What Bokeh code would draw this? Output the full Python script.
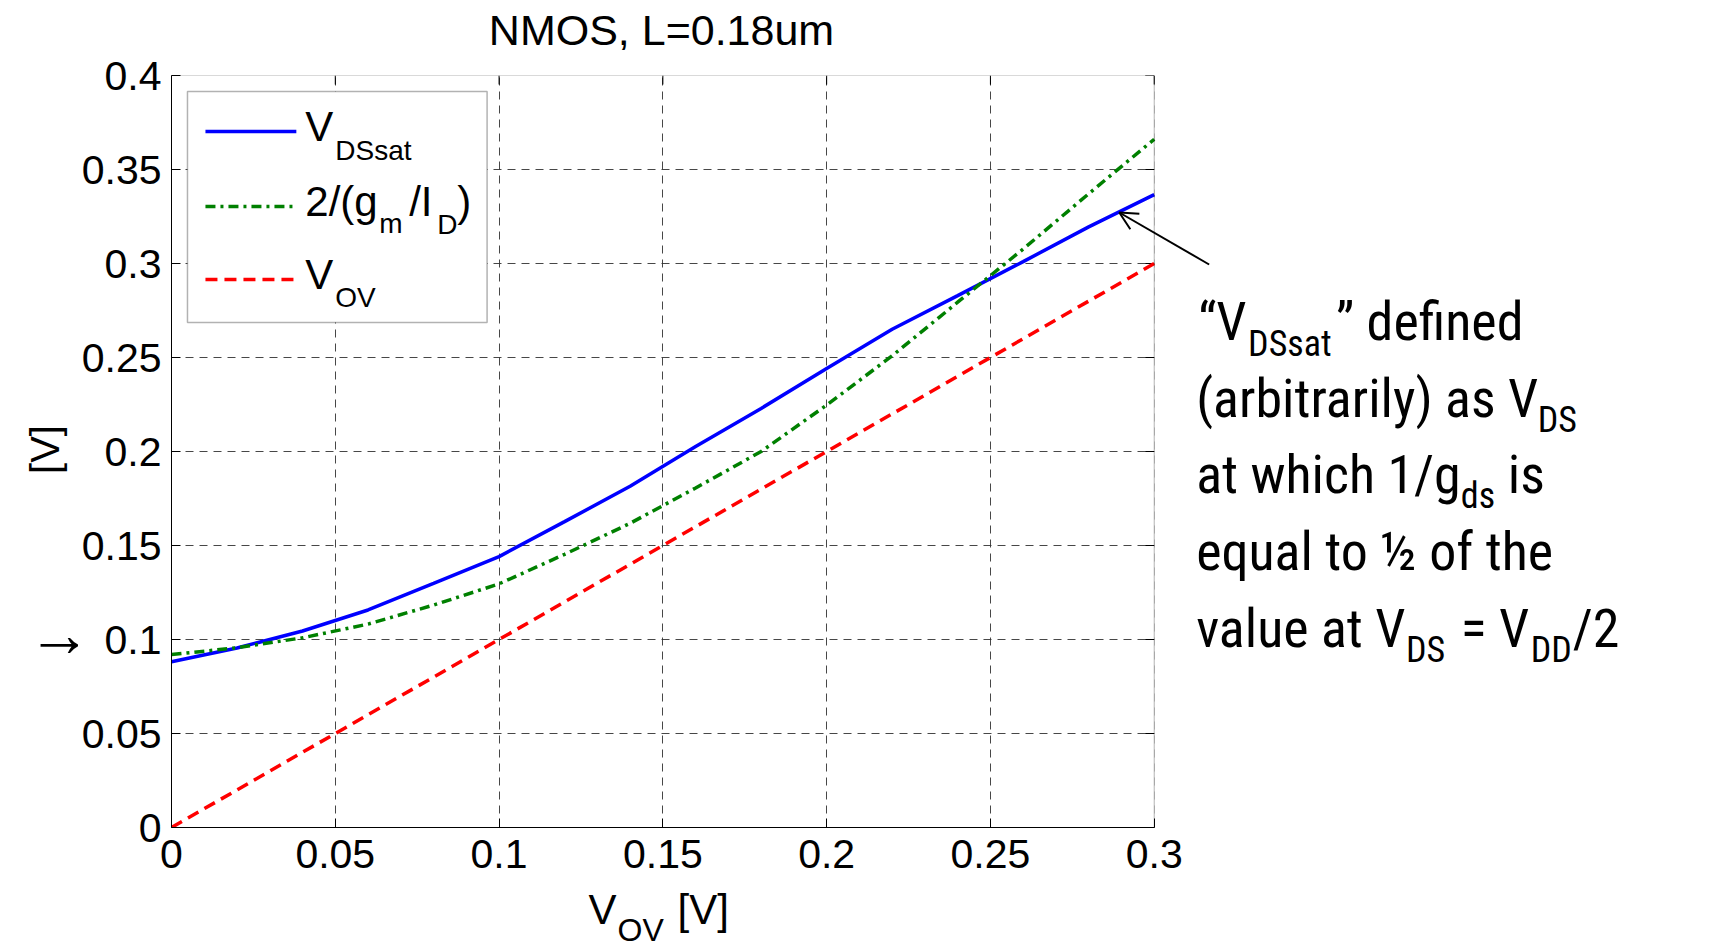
import math
from bokeh.plotting import figure
from bokeh.models import Label, BoxAnnotation, Arrow, OpenHead, FixedTicker, Range1d
from bokeh.layouts import column, row
from bokeh.embed import file_html
from bokeh.resources import INLINE

# ---------------- data ----------------
v_ov = [0.00, 0.02, 0.04, 0.06, 0.08, 0.10, 0.12, 0.14, 0.16, 0.18,
        0.20, 0.22, 0.24, 0.26, 0.28, 0.30]
v_dssat = [0.0882, 0.0955, 0.1045, 0.1157, 0.1298, 0.1441, 0.1627, 0.1815,
           0.2026, 0.2229, 0.2442, 0.2650, 0.2829, 0.3010, 0.3195, 0.3366]
two_over_gmid = [0.0920, 0.0956, 0.1009, 0.1082, 0.1183, 0.1296, 0.1453, 0.1618,
                 0.1806, 0.2000, 0.2247, 0.2509, 0.2794, 0.3077, 0.3371, 0.3661]
v_ov_line = [0.00, 0.02, 0.04, 0.06, 0.08, 0.10, 0.12, 0.14, 0.16, 0.18,
             0.20, 0.22, 0.24, 0.26, 0.28, 0.30]

x_ticks = [0, 0.05, 0.1, 0.15, 0.2, 0.25, 0.3]
x_tick_labels = ["0", "0.05", "0.1", "0.15", "0.2", "0.25", "0.3"]
y_ticks = [0, 0.05, 0.1, 0.15, 0.2, 0.25, 0.3, 0.35, 0.4]
y_tick_labels = ["0", "0.05", "0.1", "0.15", "0.2", "0.25", "0.3", "0.35", "0.4"]

title_text = "NMOS, L=0.18um"

# ---------------- layout (canvas pixels) ----------------
W, H = 1710, 944
FL, FR, FT, FB = 169, 1153, 75, 827          # axes box
LEFT_W = 78                                   # left strip (y label, arrow mark)
TOP_B = 25                                    # main figure top border
TOP_H = FT - TOP_B                            # title strip height
BOT_B = 62                                    # main figure bottom border
MID_B = FB + BOT_B
X0, X1, Y0, Y1 = 0.0, 0.3, 0.0, 0.4
MID_K = 0.345                                 # em-middle above the baseline

def px2x(px):
    return X0 + (px - FL) / (FR - FL) * (X1 - X0)

def py2y(py):
    return Y0 + (FB - py) / (FB - FT) * (Y1 - Y0)

def fpx(size):
    return float(size.replace("px", ""))

SANS = "'Liberation Sans'"
NARROW = "'Roboto Condensed', 'Liberation Sans Narrow', 'DejaVu Sans Condensed', sans-serif"

# ---------------- main figure (frame extends to the right edge) ----------------
p = figure(width=W - LEFT_W, height=MID_B - TOP_H, output_backend="svg",
           toolbar_location=None, title=None,
           x_range=Range1d(X0, px2x(W)), y_range=Range1d(Y0, Y1),
           min_border_left=FL - LEFT_W, min_border_right=0,
           min_border_top=TOP_B, min_border_bottom=BOT_B)
p.background_fill_color = "white"
p.border_fill_color = "white"
p.outline_line_color = None

for ax, ticks, labels in ((p.xaxis[0], x_ticks, x_tick_labels),
                          (p.yaxis[0], y_ticks, y_tick_labels)):
    ax.ticker = FixedTicker(ticks=ticks)
    ax.major_label_overrides = dict(zip(ticks, labels))
    ax.major_label_text_font = SANS
    ax.major_label_text_font_size = "41px"
    ax.major_label_text_color = "black"
    ax.major_tick_in = 9
    ax.major_tick_out = 0
    ax.minor_tick_line_color = None
    ax.axis_line_color = "black"
    ax.major_tick_line_color = "black"
p.xaxis.bounds = (X0, X1)
p.xaxis.major_label_standoff = 12
p.yaxis.major_label_standoff = 10

p.xgrid.ticker = FixedTicker(ticks=x_ticks)
p.ygrid.ticker = FixedTicker(ticks=y_ticks)
for g in (p.xgrid[0], p.ygrid[0]):
    g.grid_line_color = "#333333"
    g.grid_line_dash = "8 6"
    g.grid_line_width = 1
    g.grid_line_alpha = 0.9

# blank out the grid to the right of the axes box
p.add_layout(BoxAnnotation(left=X1, fill_color="white", fill_alpha=1.0, line_color=None,
                           level="underlay"))
# axes box
p.add_layout(BoxAnnotation(left=X0, right=X1, bottom=Y0, top=Y1, fill_alpha=0.0,
                           line_color="black", line_width=1, level="annotation"))

# mirrored inward ticks on the top and right edges of the box
tick_dx = px2x(FL + 9) - px2x(FL)
tick_dy = py2y(FB - 9) - py2y(FB)
p.segment(x0=[X1] * len(y_ticks), y0=y_ticks, x1=[X1 - tick_dx] * len(y_ticks), y1=y_ticks,
          line_color="black", line_width=1)
p.segment(x0=x_ticks, y0=[Y1] * len(x_ticks), x1=x_ticks, y1=[Y1 - tick_dy] * len(x_ticks),
          line_color="black", line_width=1)

# ---------------- series ----------------
p.line(v_ov, v_dssat, line_color="#0000FF", line_width=3.5)
p.line(v_ov, two_over_gmid, line_color="#008000", line_width=3.5, line_dash="10 5 3 5")
p.line(v_ov, v_ov_line, line_color="#FF0000", line_width=3.5, line_dash="12 7")

# ---------------- legend (manual, with subscripts) ----------------
p.add_layout(BoxAnnotation(left=px2x(185), right=px2x(485), top=py2y(91), bottom=py2y(322),
                           fill_color="white", fill_alpha=1.0, line_color="black",
                           line_width=1.5, level="annotation"))
for yy, col, dash in ((131, "#0000FF", "solid"), (206, "#008000", "10 5 3 5"),
                      (279, "#FF0000", "12 7")):
    r = p.line([px2x(203), px2x(294)], [py2y(yy), py2y(yy)], line_color=col,
               line_width=3.5, line_dash=dash)
    r.level = "overlay"

def txt(s, px, base, size, font=SANS, align="left"):
    """Text in the main frame; `base` is the canvas row of the text baseline."""
    p.add_layout(Label(x=px2x(px), y=py2y(base - MID_K * fpx(size)), text=s, text_font=font,
                       text_font_size=size, text_align=align, text_baseline="middle",
                       text_color="black", level="overlay"))

LEG, LSUB = "42px", "28px"
txt("V", 303, 140, LEG); txt("DSsat", 333, 160, LSUB)
txt("2/(g", 303, 215, LEG); txt("m", 377, 233, LSUB); txt("/I", 407, 215, LEG)
txt("D", 435, 234, LSUB); txt(")", 455, 215, LEG)
txt("V", 303, 288, LEG); txt("OV", 333, 307, LSUB)

# pointer arrow
p.add_layout(Arrow(end=OpenHead(size=18, line_width=2, line_color="black"),
                   x_start=px2x(1208), y_start=py2y(264), x_end=px2x(1118), y_end=py2y(212),
                   line_width=2, line_color="black", level="overlay"))

# annotation text
M, S = "54px", "36px"
txt("\u201cV", 1197, 340, M, NARROW); txt("DSsat", 1247, 356, S, NARROW)
txt("\u201d defined", 1335, 340, M, NARROW)
txt("(arbitrarily) as V", 1195, 417, M, NARROW); txt("DS", 1537, 432, S, NARROW)
txt("at which 1/g", 1195, 493, M, NARROW); txt("ds", 1460, 508, S, NARROW)
txt("is", 1507, 493, M, NARROW)
txt("equal to \u00bd of the", 1195, 570, M, NARROW)
txt("value at V", 1195, 647, M, NARROW); txt("DS", 1405, 662, S, NARROW)
txt("= V", 1460, 647, M, NARROW); txt("DD", 1530, 662, S, NARROW)
txt("/2", 1572, 647, M, NARROW)

# ---------------- helper strips (coordinates = canvas pixels) ----------------
def strip(x_lo, x_hi, y_top, y_bot, height):
    f = figure(width=x_hi - x_lo, height=height, output_backend="svg",
               toolbar_location=None, title=None, x_axis_type=None, y_axis_type=None,
               x_range=Range1d(x_lo, x_hi), y_range=Range1d(y_bot, y_top),
               min_border=0, min_border_left=0, min_border_right=0,
               min_border_top=0, min_border_bottom=0)
    f.outline_line_color = None
    f.background_fill_color = "white"
    f.border_fill_color = "white"
    return f

def stxt(f, s, px, base, size, font=SANS, align="left", angle=0.0, mid=False):
    y = base if mid else base - MID_K * fpx(size)
    f.add_layout(Label(x=px, y=y, text=s, text_font=font, text_font_size=size,
                       text_align=align, text_baseline="middle", text_color="black",
                       angle=angle))

top_f = strip(0, W, 0, TOP_H, TOP_H)
# the row aligns this strip's frame with the axes box (rows FT..FB)
left_f = strip(0, LEFT_W, FT, FB, MID_B - TOP_H)
bot_f = strip(0, W, MID_B, H, H - MID_B)

stxt(top_f, title_text, (FL + FR) / 2, 44, "43px", align="center")
stxt(left_f, "[V]", 44, 449, "40px", align="center", angle=math.pi / 2, mid=True)
stxt(left_f, "\u2192", 27, 633, "64px", mid=True)
stxt(bot_f, "V", 588, 923, "42px"); stxt(bot_f, "OV", 617, 941, "32px")
stxt(bot_f, "[V]", 677, 923, "42px")

layout = column(top_f, row(left_f, p), bot_f)
open("out.html", "w").write(file_html(layout, INLINE))
